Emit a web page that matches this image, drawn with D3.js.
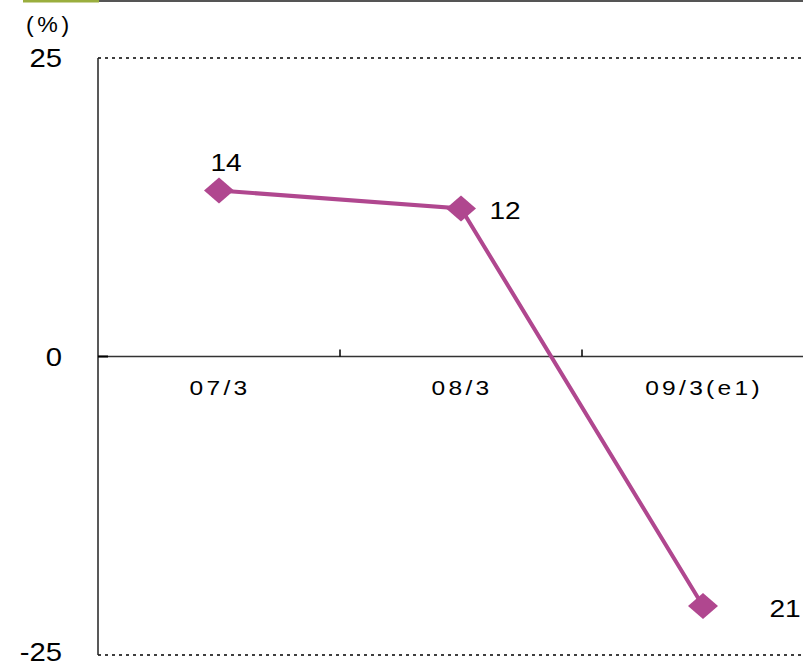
<!DOCTYPE html>
<html>
<head>
<meta charset="utf-8">
<script src="https://cdn.jsdelivr.net/npm/d3@7"></script>
<style>
  body { margin: 0; background: #fff; }
  text { font-family: "Liberation Sans", Arial, sans-serif; fill: #000; }
</style>
</head>
<body>
<div id="chart"></div>
<script>
// data
const categories = ["07/3", "08/3", "09/3(e1)"];
const values = [13.9, 12.4, -20.9];
const pointLabels = ["14", "12", "21"];
const yTicks = [25, 0, -25];

const W = 803, H = 666;
const stretch = 1.17; // text in the source is a bit wide

const svg = d3.select("#chart").append("svg")
    .attr("width", W).attr("height", H);

// header strip
svg.append("rect").attr("x", 23).attr("y", 0).attr("width", 76).attr("height", 2.5).attr("fill", "#9aae3e");
svg.append("rect").attr("x", 99).attr("y", 0).attr("width", W - 99).attr("height", 2).attr("fill", "#555");

const x = d3.scaleBand().domain(categories).range([98, 824]).padding(0);
const y = d3.scaleLinear().domain([-25, 25]).range([655, 58]);

// dashed top and bottom gridlines
[25, -25].forEach(v => {
  svg.append("line")
      .attr("x1", 98).attr("x2", W)
      .attr("y1", y(v)).attr("y2", y(v))
      .attr("stroke", "#000").attr("stroke-width", 1.5)
      .attr("stroke-dasharray", "3,4");
});

// left axis
svg.append("line")
    .attr("x1", 98).attr("x2", 98)
    .attr("y1", y(25)).attr("y2", y(-25))
    .attr("stroke", "#222").attr("stroke-width", 1.5);

// zero axis
svg.append("line")
    .attr("x1", 98).attr("x2", W)
    .attr("y1", y(0)).attr("y2", y(0))
    .attr("stroke", "#333").attr("stroke-width", 1.5);
svg.append("line")
    .attr("x1", 98).attr("x2", 108)
    .attr("y1", y(0)).attr("y2", y(0))
    .attr("stroke", "#000").attr("stroke-width", 2);

// category ticks between bands
categories.slice(1).forEach(c => {
  svg.append("line")
      .attr("x1", x(c)).attr("x2", x(c))
      .attr("y1", y(0) - 7).attr("y2", y(0))
      .attr("stroke", "#000").attr("stroke-width", 1.5);
});

// y tick labels
svg.selectAll(".ytick").data(yTicks).enter().append("text")
    .attr("class", "ytick")
    .attr("transform", d => `translate(62,${Math.min(y(d) + 9, 661)}) scale(${stretch},1)`)
    .attr("text-anchor", "end")
    .style("font-size", "25px")
    .text(d => d);

svg.append("text")
    .attr("transform", `translate(26,32) scale(1.05,1)`)
    .style("font-size", "22px")
    .style("letter-spacing", "3.5px")
    .text("(%)");

// x labels
svg.selectAll(".xlab").data(categories).enter().append("text")
    .attr("class", "xlab")
    .attr("transform", d => `translate(${x(d) + x.bandwidth() / 2 + 1},395) scale(${stretch},1)`)
    .attr("text-anchor", "middle")
    .style("font-size", "21px")
    .style("letter-spacing", "2.8px")
    .text(d => d);

// line
const pts = categories.map((c, i) => ({c: c, v: values[i], lab: pointLabels[i]}));
const line = d3.line().x(d => x(d.c) + x.bandwidth() / 2).y(d => y(d.v));
svg.append("path").datum(pts)
    .attr("d", line)
    .attr("fill", "none")
    .attr("stroke", "#b0478f")
    .attr("stroke-width", 4);

// diamond markers
svg.selectAll(".mk").data(pts).enter().append("path")
    .attr("class", "mk")
    .attr("transform", d => `translate(${x(d.c) + x.bandwidth() / 2},${y(d.v)})`)
    .attr("d", "M-15,0L0,-13L15,0L0,13Z")
    .attr("fill", "#b0478f");

// value labels
const labOff = [[7, -20], [44, 11], [82, 11]];
svg.selectAll(".vlab").data(pts).enter().append("text")
    .attr("class", "vlab")
    .attr("transform", (d, i) => `translate(${x(d.c) + x.bandwidth() / 2 + labOff[i][0]},${y(d.v) + labOff[i][1]}) scale(${stretch},1)`)
    .attr("text-anchor", "middle")
    .style("font-size", "24px")
    .text(d => d.lab);
</script>
</body>
</html>
